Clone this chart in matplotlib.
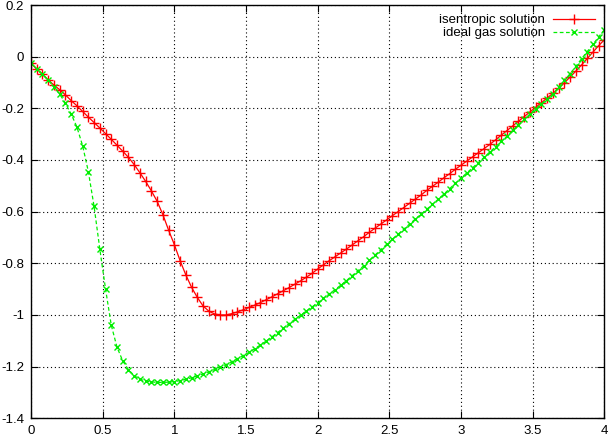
import numpy as np
import matplotlib
matplotlib.use('Agg')
import matplotlib.pyplot as plt

plt.rcParams['font.family'] = ['Liberation Sans', 'DejaVu Sans']
plt.rcParams['axes.unicode_minus'] = False

# x grid of the solution, step 0.04 from 0 to 4
x = np.linspace(0, 4, 101)

isentropic = [
    -0.026, -0.048, -0.068, -0.090, -0.110, -0.128, -0.148, -0.170, -0.190, -0.212,
    -0.234, -0.255, -0.276, -0.298, -0.320, -0.343, -0.366, -0.390, -0.418, -0.450,
    -0.483, -0.520, -0.560, -0.612, -0.672, -0.728, -0.790, -0.845, -0.893, -0.932,
    -0.965, -0.985, -0.996, -1.000, -1.000, -0.995, -0.988, -0.980, -0.971, -0.962,
    -0.952, -0.941, -0.930, -0.918, -0.906, -0.894, -0.881, -0.868, -0.854, -0.839,
    -0.822, -0.806, -0.790, -0.775, -0.760, -0.745, -0.729, -0.713, -0.697, -0.680,
    -0.664, -0.648, -0.632, -0.616, -0.600, -0.584, -0.568, -0.552, -0.536, -0.518,
    -0.502, -0.486, -0.469, -0.453, -0.436, -0.420, -0.404, -0.388, -0.372, -0.356,
    -0.340, -0.322, -0.304, -0.286, -0.268, -0.250, -0.232, -0.214, -0.196, -0.178,
    -0.160, -0.142, -0.123, -0.101, -0.079, -0.056, -0.032, -0.007, 0.018, 0.043,
    0.066]

ideal_gas = [
    -0.025, -0.048, -0.068, -0.090, -0.117, -0.145, -0.180, -0.222, -0.272, -0.345,
    -0.445, -0.580, -0.745, -0.900, -1.040, -1.125, -1.178, -1.212, -1.235, -1.249,
    -1.256, -1.259, -1.261, -1.261, -1.260, -1.258, -1.254, -1.249, -1.243, -1.236,
    -1.228, -1.220, -1.211, -1.202, -1.192, -1.181, -1.169, -1.157, -1.145, -1.131,
    -1.116, -1.101, -1.085, -1.068, -1.051, -1.034, -1.017, -1.001, -0.985, -0.969,
    -0.953, -0.936, -0.919, -0.902, -0.885, -0.867, -0.848, -0.829, -0.810, -0.789,
    -0.768, -0.747, -0.727, -0.707, -0.688, -0.668, -0.648, -0.629, -0.610, -0.591,
    -0.572, -0.552, -0.532, -0.511, -0.490, -0.470, -0.450, -0.430, -0.410, -0.390,
    -0.369, -0.349, -0.328, -0.308, -0.285, -0.264, -0.243, -0.222, -0.201, -0.183,
    -0.164, -0.145, -0.118, -0.092, -0.066, -0.038, -0.008, 0.020, 0.048, 0.077,
    0.105]

xticks = [0, 0.5, 1, 1.5, 2, 2.5, 3, 3.5, 4]
xlabels = ['0', '0.5', '1', '1.5', '2', '2.5', '3', '3.5', '4']
yticks = [0.2, 0, -0.2, -0.4, -0.6, -0.8, -1.0, -1.2, -1.4]
ylabels = ['0.2', '0', '-0.2', '-0.4', '-0.6', '-0.8', '-1', '-1.2', '-1.4']

fig = plt.figure(figsize=(6.14, 4.48), dpi=100)
ax = fig.add_axes([0.0505, 0.0663, 0.934, 0.9225])

ax.plot(x, isentropic, color='#ff0000', lw=0.9, marker='+', ms=6.5, mew=1.0,
        label='isentropic solution')
ax.plot(x, ideal_gas, color='#00ee00', lw=0.9, ls=(0, (3, 2)), marker='x', ms=5,
        mew=1.0, label='ideal gas solution')

ax.set_xlim(0, 4)
ax.set_ylim(-1.4, 0.2)
ax.set_xticks(xticks)
ax.set_xticklabels(xlabels)
ax.set_yticks(yticks)
ax.set_yticklabels(ylabels)
ax.tick_params(direction='in', length=5, width=0.8, top=True, right=True,
               labelsize=9.5, pad=5)
ax.grid(True, color='black', ls=(0, (1, 2.5)), lw=0.8)
for s in ax.spines.values():
    s.set_linewidth(1.0)

leg = ax.legend(loc='upper right', frameon=False, markerfirst=False, numpoints=1,
                fontsize=9.5, handlelength=3.2, handletextpad=0.6, labelspacing=0.05,
                borderaxespad=0.3)

plt.savefig('out.png', dpi=100)
